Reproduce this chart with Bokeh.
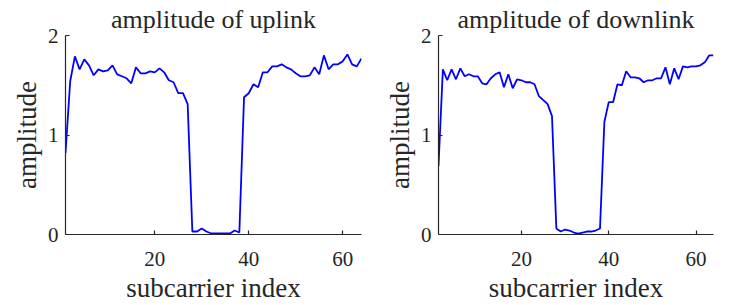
from bokeh.plotting import figure
from bokeh.layouts import row
from bokeh.models import Range1d, FixedTicker
from bokeh.embed import file_html
from bokeh.resources import INLINE

subcarrier = list(range(1, 65))

uplink = [0.82, 1.54, 1.79, 1.66, 1.76, 1.70, 1.60, 1.66, 1.64, 1.65,
          1.70, 1.61, 1.59, 1.57, 1.52, 1.68, 1.62, 1.62, 1.64, 1.63,
          1.67, 1.63, 1.55, 1.53, 1.42, 1.42, 1.31, 0.03, 0.03, 0.06,
          0.03, 0.01, 0.01, 0.01, 0.01, 0.01, 0.04, 0.02, 1.38, 1.42,
          1.51, 1.48, 1.63, 1.63, 1.69, 1.69, 1.71, 1.68, 1.66, 1.62,
          1.59, 1.59, 1.60, 1.68, 1.61, 1.80, 1.66, 1.71, 1.71, 1.74,
          1.81, 1.71, 1.69, 1.77]

downlink = [0.69, 1.66, 1.55, 1.66, 1.56, 1.67, 1.59, 1.61, 1.59, 1.59,
            1.52, 1.51, 1.57, 1.61, 1.63, 1.48, 1.61, 1.47, 1.56, 1.55,
            1.53, 1.53, 1.51, 1.39, 1.35, 1.31, 1.19, 0.06, 0.03, 0.05,
            0.04, 0.02, 0.01, 0.02, 0.03, 0.03, 0.04, 0.06, 1.13, 1.33,
            1.33, 1.51, 1.50, 1.64, 1.58, 1.58, 1.57, 1.53, 1.55, 1.55,
            1.57, 1.57, 1.68, 1.51, 1.67, 1.56, 1.69, 1.68, 1.69, 1.69,
            1.70, 1.73, 1.80, 1.80]

titles = ["amplitude of uplink", "amplitude of downlink"]
x_ticks = [20, 40, 60]
y_ticks = [0, 1, 2]
x_label = "subcarrier index"
y_label = "amplitude"

FONT = "Liberation Serif"
AX = "#262626"


def make(title, yvals, fw, bl, br):
    p = figure(frame_width=fw, frame_height=199, output_backend="svg", toolbar_location=None,
               x_range=Range1d(1, 64), y_range=Range1d(0, 2),
               min_border_left=bl, min_border_right=br,
               min_border_top=34, min_border_bottom=70)
    p.outline_line_color = None
    p.grid.visible = False
    p.background_fill_color = "white"
    p.border_fill_color = "white"
    p.line(subcarrier, yvals, line_color="#0000FF", line_width=1.8)
    for ax, ticks, lab in ((p.xaxis[0], x_ticks, x_label), (p.yaxis[0], y_ticks, y_label)):
        ax.ticker = FixedTicker(ticks=ticks)
        ax.minor_tick_line_color = None
        ax.major_tick_in = 4
        ax.major_tick_out = 0
        ax.axis_line_color = AX
        ax.axis_line_width = 1.2
        ax.major_tick_line_color = AX
        ax.major_tick_line_width = 1.2
        ax.major_label_text_font = FONT
        ax.major_label_text_font_size = "21px"
        ax.major_label_text_color = AX
        ax.axis_label = lab
        ax.axis_label_text_font = FONT
        ax.axis_label_text_font_size = "27px"
        ax.axis_label_text_font_style = "normal"
        ax.axis_label_text_color = AX
    p.xaxis.major_label_standoff = 17
    p.xaxis.axis_label_standoff = 4
    p.yaxis.major_label_standoff = 7
    p.yaxis.axis_label_standoff = 3
    p.title.text = title
    p.title.align = "center"
    p.title.text_font = FONT
    p.title.text_font_size = "26px"
    p.title.text_font_style = "normal"
    p.title.text_color = AX
    p.title.standoff = 4
    return p


p1 = make(titles[0], uplink, 296, 65, 9)
p2 = make(titles[1], downlink, 275, 68, 34)
layout = row(p1, p2)

open("out.html", "w").write(file_html(layout, INLINE))
